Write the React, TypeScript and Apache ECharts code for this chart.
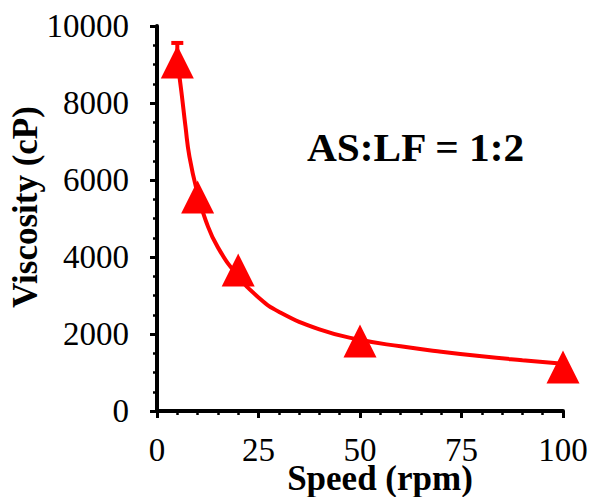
import React, { useEffect, useRef } from "react";
import * as echarts from "echarts";

const speeds = [5, 10, 20, 50, 100];
const viscosity = [9065, 5560, 3660, 1820, 1145];
const errorSpeed = [5];
const errorLow = [9065];
const errorHigh = [9560];
const curveSpeed = [5, 6, 7, 8, 10, 12, 15, 20, 25, 30, 40, 50, 60, 70, 80, 90, 100];
const curveViscosity = [9100, 8300, 7400, 6600, 5650, 4950, 4250, 3500, 2950, 2580, 2120, 1850, 1680, 1540, 1420, 1320, 1230];
const xTicks = { min: 0, max: 100, interval: 25 };
const yTicks = { min: 0, max: 10000, interval: 2000 };
const xTitle = "Speed (rpm)";
const yTitle = "Viscosity (cP)";
const annotation = "AS:LF = 1:2";

const FONT = "'Liberation Serif', 'Times New Roman', serif";
const RED = "#FF0000";

export default function App() {
  const ref = useRef<HTMLDivElement>(null);
  useEffect(() => {
    if (!ref.current) return;
    const chart = echarts.init(ref.current, undefined, { renderer: "svg" });
    const axisCommon = {
      type: "value" as const,
      axisLine: { show: true, lineStyle: { color: "#000", width: 4 } },
      axisTick: { show: true, inside: false, length: 7, lineStyle: { color: "#000", width: 3 } },
      splitLine: { show: false },
    };
    chart.setOption({
      animation: false,
      backgroundColor: "#fff",
      grid: { left: 157, right: 29, top: 26, bottom: 86, containLabel: false, outerBoundsMode: "none" },
      xAxis: {
        ...axisCommon,
        min: xTicks.min,
        max: xTicks.max,
        interval: xTicks.interval,
        minorTick: { show: true, splitNumber: 5, length: 4, lineStyle: { color: "#000", width: 2.5 } },
        axisLabel: { fontSize: 33, color: "#000", fontFamily: FONT, margin: 22, formatter: (v: number) => String(v) },
      },
      yAxis: {
        ...axisCommon,
        min: yTicks.min,
        max: yTicks.max,
        interval: yTicks.interval,
        minorTick: { show: true, splitNumber: 4, length: 4, lineStyle: { color: "#000", width: 2.5 } },
        axisLabel: { fontSize: 33, color: "#000", fontFamily: FONT, margin: 28, formatter: (v: number) => String(v) },
      },
      graphic: [
        {
          type: "text",
          x: 380,
          y: 478,
          style: {
            text: xTitle,
            font: `bold 35px ${FONT}`,
            fill: "#000",
            verticalAlign: "middle",
            align: "center",
          },
        },
        {
          type: "text",
          x: 25,
          y: 207,
          rotation: Math.PI / 2,
          style: {
            text: yTitle,
            font: `bold 35px ${FONT}`,
            fill: "#000",
            verticalAlign: "middle",
            align: "center",
          },
        },
        {
          type: "text",
          x: 307,
          y: 148,
          scaleX: 1.06,
          style: {
            text: annotation,
            font: `bold 39px ${FONT}`,
            fill: "#000",
            verticalAlign: "middle",
            align: "left",
          },
        },
      ],
      series: [
        {
          type: "line",
          data: curveSpeed.map((x, i) => [x, curveViscosity[i]]),
          smooth: true,
          showSymbol: false,
          symbol: "none",
          lineStyle: { color: RED, width: 4 },
          z: 2,
        },
        {
          type: "custom",
          data: errorSpeed.map((x, i) => [x, errorLow[i], errorHigh[i]]),
          renderItem: (params: any, api: any) => {
            const lo = api.coord([api.value(0), api.value(1)]);
            const hi = api.coord([api.value(0), api.value(2)]);
            const style = { stroke: RED, lineWidth: 4 };
            return {
              type: "group",
              children: [
                { type: "line", shape: { x1: lo[0], y1: lo[1], x2: hi[0], y2: hi[1] }, style },
                { type: "line", shape: { x1: hi[0] - 6, y1: hi[1], x2: hi[0] + 6, y2: hi[1] }, style },
              ],
            };
          },
          z: 3,
        },
        {
          type: "scatter",
          data: speeds.map((x, i) => [x, viscosity[i]]),
          symbol: "triangle",
          symbolSize: [33, 33],
          itemStyle: { color: RED, opacity: 1 },
          z: 4,
        },
      ],
    });
    return () => chart.dispose();
  }, []);
  return <div ref={ref} style={{ position: "absolute", left: 0, top: 0, width: 592, height: 497 }} />;
}
